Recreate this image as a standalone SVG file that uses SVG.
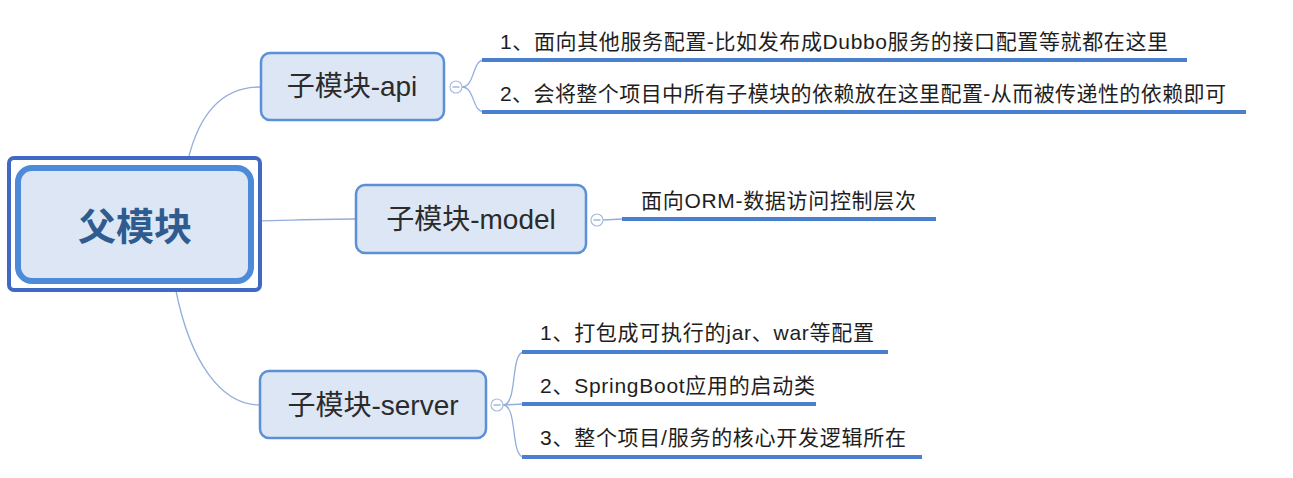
<svg xmlns="http://www.w3.org/2000/svg" width="1293" height="478" viewBox="0 0 1293 478">
<style>
.node{fill:#dce6f5;stroke:#5b8fd6;stroke-width:2.5}
.nt{font-family:"Liberation Sans","Noto Sans CJK SC",sans-serif;font-size:28px;fill:#2b2b2b;text-anchor:middle;dominant-baseline:central}
.lt{font-family:"Liberation Sans","Noto Sans CJK SC",sans-serif;font-size:21px;fill:#1e1e1e;dominant-baseline:central}
.ul{stroke:#4a7fd0;stroke-width:4;fill:none}
.con{stroke:#94aedc;stroke-width:1.3;fill:none}
.tog{fill:#ffffff;stroke:#a9bde0;stroke-width:1.2}
.togm{stroke:#8aa3d4;stroke-width:1.2}
</style>
<rect width="1293" height="478" fill="#ffffff"/>
<g id="connectors">
<path class="con" d="M188,160 C200,110 225,87 260,87"/>
<path class="con" d="M253,221 C300,220 320,219 356,219"/>
<path class="con" d="M176,291 C190,360 220,405 260,405"/>
<path class="con" d="M462,87 C475,87 472,60 484,60"/>
<path class="con" d="M462,87 C475,87 472,112 484,112"/>
<path class="con" d="M603,220 L622,219"/>
<path class="con" d="M503,405 C518,405 510,352 524,352"/>
<path class="con" d="M503,405 L524,404"/>
<path class="con" d="M503,405 C518,405 510,457 524,457"/>
</g>
<g id="root">
<rect x="9" y="158" width="251" height="132" rx="5" fill="#ffffff" stroke="#4169c3" stroke-width="4"/>
<rect x="18" y="168" width="233" height="113" rx="14" fill="#dce6f5" stroke="#4d8ad8" stroke-width="6"/>
<text x="135" y="227" font-family="Liberation Sans,Noto Sans CJK SC,sans-serif" font-size="38" font-weight="bold" fill="#2f5b8f" text-anchor="middle" dominant-baseline="central">父模块</text>
</g>
<g id="api">
<rect class="node" x="261" y="53" width="183" height="67" rx="9"/>
<text class="nt" x="352" y="86">子模块-api</text>
<circle class="tog" cx="456" cy="87" r="6"/>
<line class="togm" x1="452.5" y1="87" x2="459.5" y2="87"/>
</g>
<g id="api-leaf1">
<text class="lt" x="500" y="41" textLength="668" lengthAdjust="spacing">1、面向其他服务配置-比如发布成Dubbo服务的接口配置等就都在这里</text>
<line class="ul" x1="482" y1="60" x2="1187" y2="60"/>
</g>
<g id="api-leaf2">
<text class="lt" x="500" y="93" textLength="726" lengthAdjust="spacing">2、会将整个项目中所有子模块的依赖放在这里配置-从而被传递性的依赖即可</text>
<line class="ul" x1="482" y1="112" x2="1246" y2="112"/>
</g>
<g id="model">
<rect class="node" x="356" y="185" width="230" height="68" rx="9"/>
<text class="nt" x="471" y="219">子模块-model</text>
<circle class="tog" cx="597" cy="220" r="6"/>
<line class="togm" x1="593.5" y1="220" x2="600.5" y2="220"/>
</g>
<g id="model-leaf">
<text class="lt" x="641" y="200" textLength="275" lengthAdjust="spacing">面向ORM-数据访问控制层次</text>
<line class="ul" x1="622" y1="219" x2="936" y2="219"/>
</g>
<g id="server">
<rect class="node" x="260" y="371" width="226" height="67" rx="9"/>
<text class="nt" x="373" y="405">子模块-server</text>
<circle class="tog" cx="497" cy="405" r="6"/>
<line class="togm" x1="493.5" y1="405" x2="500.5" y2="405"/>
</g>
<g id="server-leaf1">
<text class="lt" x="540" y="332" textLength="334" lengthAdjust="spacing">1、打包成可执行的jar、war等配置</text>
<line class="ul" x1="522" y1="352" x2="888" y2="352"/>
</g>
<g id="server-leaf2">
<text class="lt" x="540" y="385" textLength="275" lengthAdjust="spacing">2、SpringBoot应用的启动类</text>
<line class="ul" x1="522" y1="404" x2="816" y2="404"/>
</g>
<g id="server-leaf3">
<text class="lt" x="540" y="437" textLength="366" lengthAdjust="spacing">3、整个项目/服务的核心开发逻辑所在</text>
<line class="ul" x1="522" y1="457" x2="922" y2="457"/>
</g>
</svg>
